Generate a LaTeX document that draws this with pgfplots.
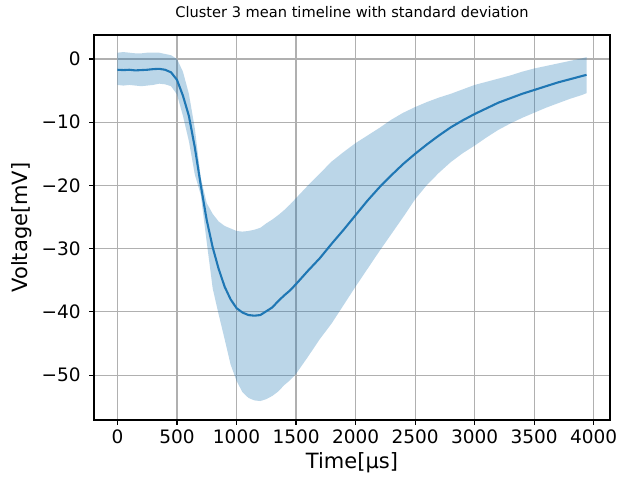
\documentclass[border=0pt]{standalone}
\usepackage{fontspec}
\setmainfont{DejaVu Sans}
\usepackage{pgfplots}
\pgfplotsset{compat=1.18}
\usepackage{pgfplotstable}
\usepgfplotslibrary{fillbetween}
\definecolor{mplblue}{HTML}{1F77B4}
\definecolor{gridgray}{HTML}{B0B0B0}
\pgfplotstableread{
x mean up lo
0 -1.70 1.0 -4.1
50 -1.75 1.1 -4.2
100 -1.70 1.0 -4.1
150 -1.80 0.9 -4.2
200 -1.75 0.9 -4.3
250 -1.70 1.0 -4.2
300 -1.60 1.0 -4.1
350 -1.55 1.0 -3.9
400 -1.70 0.8 -4.0
450 -2.10 0.6 -4.3
500 -3.30 0.0 -5.6
550 -5.80 -2.0 -9.0
600 -9.00 -5.5 -13.0
650 -14.0 -11.0 -18.3
700 -20.0 -18.8 -21.5
750 -25.5 -22.8 -29.0
800 -29.8 -24.5 -36.3
850 -33.2 -25.7 -40.4
900 -36.0 -26.4 -44.3
950 -38.0 -26.8 -48.3
1000 -39.4 -27.2 -50.9
1050 -40.1 -27.3 -52.7
1100 -40.5 -27.2 -53.6
1150 -40.6 -27.0 -54.0
1200 -40.5 -26.7 -54.1
1250 -39.9 -26.0 -53.8
1300 -39.3 -25.4 -53.3
1350 -38.3 -24.7 -52.6
1400 -37.4 -23.9 -51.6
1450 -36.6 -23.0 -50.8
1500 -35.6 -22.0 -49.8
1600 -33.5 -20.0 -47.1
1700 -31.5 -18.1 -44.3
1800 -29.2 -16.2 -41.8
1900 -27.0 -14.7 -38.9
2000 -24.7 -13.3 -36.0
2100 -22.4 -12.1 -33.2
2200 -20.3 -10.9 -30.4
2300 -18.4 -9.6 -27.7
2400 -16.6 -8.5 -25.0
2500 -15.0 -7.6 -22.2
2600 -13.5 -6.8 -19.9
2700 -12.1 -6.1 -18.0
2800 -10.8 -5.5 -16.3
2900 -9.7 -4.8 -14.9
3000 -8.7 -4.1 -13.7
3100 -7.8 -3.6 -12.4
3200 -6.9 -3.1 -11.2
3300 -6.2 -2.6 -10.2
3400 -5.5 -2.0 -9.3
3500 -4.9 -1.5 -8.5
3600 -4.3 -1.1 -7.7
3700 -3.7 -0.7 -7.0
3800 -3.2 -0.3 -6.3
3900 -2.7 0.1 -5.7
3940 -2.5 0.3 -5.4
}\datatable
\begin{document}
\begin{tikzpicture}
\begin{axis}[
  scale only axis,
  width=516pt, height=385pt,
  xmin=-197, xmax=4137,
  ymin=-57.1, ymax=3.8,
  xtick={0,500,1000,1500,2000,2500,3000,3500,4000},
  xticklabels={0,500,1000,1500,2000,2500,3000,3500,4000},
  ytick={-50,-40,-30,-20,-10,0},
  yticklabels={−50,−40,−30,−20,−10,0},
  xtick pos=bottom, ytick pos=left,
  tick align=outside,
  major tick length=4.9pt,
  every tick/.style={black, line width=1.1pt},
  axis line style={black, line width=1.1pt},
  grid=major,
  major grid style={gridgray, line width=1.1pt},
  tick label style={font=\fontsize{18.5}{20}\selectfont},
  xticklabel style={yshift=-1pt},
  yticklabel style={xshift=-5pt},
  xlabel={Time[μs]},
  ylabel={Voltage[mV]},
  label style={font=\fontsize{21}{24}\selectfont},
  xlabel style={at={(axis description cs:0.5,-0.1117)}, anchor=center},
  ylabel style={at={(axis description cs:-0.1395,0.5)}, anchor=center},
  title={Cluster 3 mean timeline with standard deviation},
  title style={font=\fontsize{14.6}{17}\selectfont, at={(axis description cs:0.5,1.0442)}, anchor=center},
]
\addplot[name path=up, draw=none, forget plot] table[x=x, y=up] {\datatable};
\addplot[name path=lo, draw=none, forget plot] table[x=x, y=lo] {\datatable};
\addplot[fill=mplblue, fill opacity=0.3, draw=none] fill between[of=up and lo];
\addplot[mplblue, line width=2.1pt, line join=round] table[x=x, y=mean] {\datatable};
\end{axis}
\pgfresetboundingbox
\path[use as bounding box] (-94pt,-57pt) rectangle (525pt,420pt);
\end{tikzpicture}
\end{document}
